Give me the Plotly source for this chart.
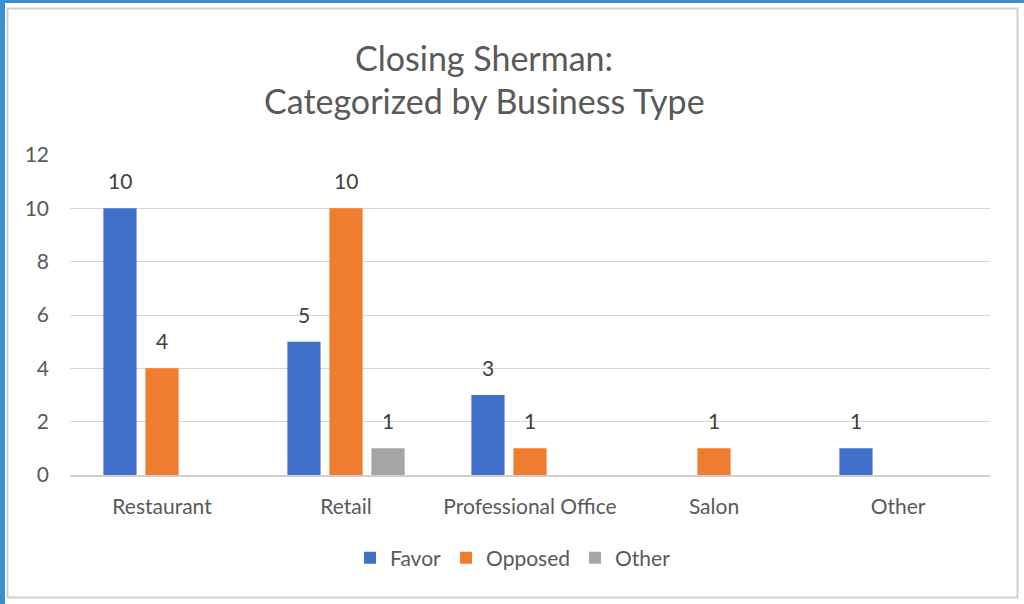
import plotly.graph_objects as go

# Survey responses on closing Sherman, grouped by business type
categories = ["Restaurant", "Retail", "Professional Office", "Salon", "Other"]
favor = [10, 5, 3, 0, 1]
opposed = [4, 10, 1, 1, 0]
other = [0, 1, 0, 0, 0]
series_names = ["Favor", "Opposed", "Other"]
series_colors = ["#4070C8", "#EE7D30", "#A5A5A5"]
y_ticks = [0, 2, 4, 6, 8, 10, 12]

W, H = 1024, 604
L, R, T, B = 70, 990, 155, 475  # plot area in pixels
BARGAP = 0.315
GROUPGAP = 0.21
FONT = "Lato, Calibri, Carlito, sans-serif"
TEXT_SIZE = 21


def px_x(px):
    return (px - L) / (R - L)


def px_y(py):
    return (B - py) / (B - T)


fig = go.Figure()
xs = list(range(len(categories)))
for name, vals, color in zip(series_names, [favor, opposed, other], series_colors):
    fig.add_trace(go.Bar(
        x=xs, y=vals, name=name, marker=dict(color=color, line=dict(width=0)),
        hoverinfo="x+y+name",
    ))

# value labels above each non-zero bar
slot = (1 - BARGAP) / len(series_names)
annotations = []
for k, vals in enumerate([favor, opposed, other]):
    off = (k - (len(series_names) - 1) / 2) * slot
    for i, v in enumerate(vals):
        if v:
            annotations.append(dict(
                x=i + off, y=v, xref="x", yref="y", text=str(v), showarrow=False,
                yanchor="middle", yshift=27.5,
                font=dict(family=FONT, size=TEXT_SIZE, color="#404040"),
            ))

# two-line chart title
annotations.append(dict(
    x=px_x(484), y=px_y(57), xref="paper", yref="paper", text="Closing Sherman:",
    showarrow=False, xanchor="center", yanchor="middle",
    font=dict(family=FONT, size=34, color="#595959"),
))
annotations.append(dict(
    x=px_x(484), y=px_y(100), xref="paper", yref="paper",
    text="Categorized by Business Type",
    showarrow=False, xanchor="center", yanchor="middle",
    font=dict(family=FONT, size=34, color="#595959"),
))

shapes = [
    # outer blue frame edges
    dict(type="rect", xref="paper", yref="paper", x0=px_x(0), x1=px_x(W),
         y0=px_y(0), y1=px_y(3), fillcolor="#3A8FCC", line=dict(width=0), layer="above"),
    dict(type="rect", xref="paper", yref="paper", x0=px_x(0), x1=px_x(5),
         y0=px_y(0), y1=px_y(H), fillcolor="#3A8FCC", line=dict(width=0), layer="above"),
    # chart-area border
    dict(type="rect", xref="paper", yref="paper", x0=px_x(7.5), x1=px_x(1017.5),
         y0=px_y(8.5), y1=px_y(597.5), fillcolor="rgba(0,0,0,0)",
         line=dict(color="#D0D0D0", width=2), layer="below"),
]

fig.update_layout(
    width=W, height=H,
    margin=dict(l=L, r=W - R, t=T, b=H - B, pad=0),
    paper_bgcolor="white", plot_bgcolor="white",
    barmode="group", bargap=BARGAP, bargroupgap=GROUPGAP,
    font=dict(family=FONT, size=TEXT_SIZE, color="#595959"),
    showlegend=True,
    legend=dict(
        orientation="h", x=px_x(513), y=px_y(558), xanchor="center", yanchor="middle",
        font=dict(family=FONT, size=TEXT_SIZE, color="#595959"), itemwidth=30,
        traceorder="normal", bgcolor="rgba(0,0,0,0)",
    ),
    xaxis=dict(
        tickmode="array", tickvals=xs, ticktext=categories, range=[-0.5, len(categories) - 0.5],
        showgrid=False, zeroline=False, showline=True, linecolor="#D0D0D0", linewidth=1.5,
        ticks="", ticklabelstandoff=12,
        tickfont=dict(family=FONT, size=TEXT_SIZE, color="#595959"), fixedrange=True,
    ),
    yaxis=dict(
        range=[0, 12], tickmode="array", tickvals=y_ticks,
        showgrid=True, gridcolor="#D6D6D6", gridwidth=1.3, zeroline=False,
        showline=False, ticks="", ticklabelstandoff=20,
        tickfont=dict(family=FONT, size=TEXT_SIZE, color="#595959"), fixedrange=True,
    ),
    annotations=annotations,
    shapes=shapes,
)

fig.write_html("out.html")
